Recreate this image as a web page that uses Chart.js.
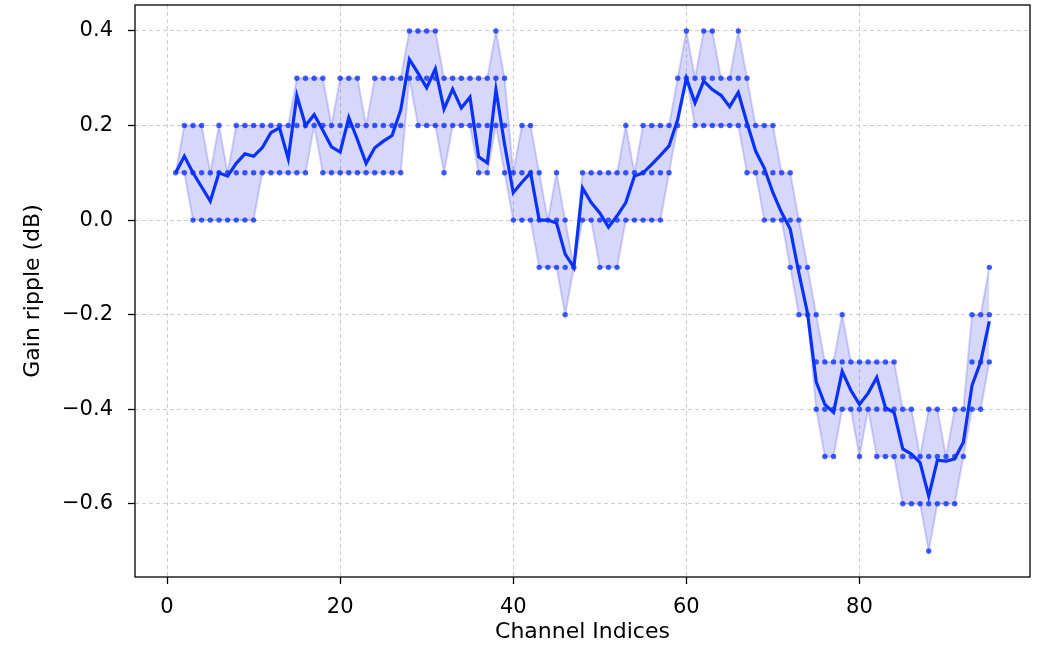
<!DOCTYPE html>
<html>
<head>
<meta charset="utf-8">
<script src="https://cdn.jsdelivr.net/npm/chart.js@4.4.1/dist/chart.umd.min.js"></script>
<style>
  html, body { margin: 0; padding: 0; background: #fff; }
  #wrap { width: 1040px; height: 645px; }
</style>
</head>
<body>
<div id="wrap"><canvas id="myChart" width="1040" height="645"></canvas></div>
<script>
// channel indices 1..95
const channels = [1,2,3,4,5,6,7,8,9,10,11,12,13,14,15,16,17,18,19,20,21,22,23,24,25,26,27,28,29,30,31,32,33,34,35,36,37,38,39,40,41,42,43,44,45,46,47,48,49,50,51,52,53,54,55,56,57,58,59,60,61,62,63,64,65,66,67,68,69,70,71,72,73,74,75,76,77,78,79,80,81,82,83,84,85,86,87,88,89,90,91,92,93,94,95];

// mean gain ripple per channel (dB)
const meanRipple = [0.10,0.135,0.10,0.07,0.04,0.10,0.093,0.12,0.14,0.135,0.153,0.185,0.195,0.13,0.263,0.20,0.223,0.19,0.155,0.144,
  0.217,0.17,0.12,0.153,0.167,0.179,0.233,0.34,0.311,0.28,0.32,0.235,0.277,0.237,0.26,0.134,0.121,0.276,0.16,0.058,
  0.08,0.10,0.0,0.0,-0.006,-0.072,-0.10,0.068,0.037,0.015,-0.015,0.009,0.037,0.093,0.10,0.118,0.137,0.157,0.213,0.30,
  0.248,0.294,0.276,0.264,0.24,0.27,0.206,0.146,0.11,0.058,0.016,-0.019,-0.112,-0.197,-0.342,-0.39,-0.407,-0.32,-0.36,-0.39,
  -0.366,-0.333,-0.397,-0.407,-0.484,-0.495,-0.513,-0.584,-0.508,-0.51,-0.505,-0.47,-0.35,-0.30,-0.214];

// upper envelope (max measured)
const maxRipple = [0.1,0.2,0.2,0.2,0.1,0.2,0.1,0.2,0.2,0.2,0.2,0.2,0.2,0.2,0.3,0.3,0.3,0.3,0.2,0.3,
  0.3,0.3,0.2,0.3,0.3,0.3,0.3,0.4,0.4,0.4,0.4,0.3,0.3,0.3,0.3,0.3,0.3,0.4,0.3,0.1,
  0.2,0.2,0.1,0.0,0.1,0.0,-0.1,0.1,0.1,0.1,0.1,0.1,0.2,0.1,0.2,0.2,0.2,0.2,0.3,0.4,
  0.3,0.4,0.4,0.3,0.3,0.4,0.3,0.2,0.2,0.2,0.1,0.1,0.0,-0.1,-0.2,-0.3,-0.3,-0.2,-0.3,-0.3,
  -0.3,-0.3,-0.3,-0.3,-0.4,-0.4,-0.5,-0.4,-0.4,-0.5,-0.4,-0.4,-0.2,-0.2,-0.1];

// lower envelope (min measured)
const minRipple = [0.1,0.1,0.0,0.0,0.0,0.0,0.0,0.0,0.0,0.0,0.1,0.1,0.1,0.1,0.1,0.1,0.2,0.1,0.1,0.1,
  0.1,0.1,0.1,0.1,0.1,0.1,0.1,0.3,0.2,0.2,0.2,0.1,0.2,0.2,0.2,0.1,0.1,0.2,0.1,0.0,
  0.0,0.0,-0.1,-0.1,-0.1,-0.2,-0.1,0.0,0.0,-0.1,-0.1,-0.1,0.0,0.0,0.0,0.0,0.0,0.1,0.2,0.3,
  0.2,0.2,0.2,0.2,0.2,0.2,0.1,0.1,0.0,0.0,0.0,-0.1,-0.2,-0.2,-0.4,-0.5,-0.5,-0.4,-0.4,-0.5,
  -0.4,-0.5,-0.5,-0.5,-0.6,-0.6,-0.6,-0.7,-0.6,-0.6,-0.6,-0.5,-0.4,-0.4,-0.3];

const xTicks = [0, 20, 40, 60, 80];
const yTicks = [0.4, 0.2, 0.0, -0.2, -0.4, -0.6];

// measured points sit on the 0.1 dB grid between min and max
let dots = [];
for (let i = 0; i < channels.length; i++) {
    let lo = Math.round(minRipple[i] * 10);
    let hi = Math.round(maxRipple[i] * 10);
    for (let k = lo; k <= hi; k++) {
        dots.push({x: channels[i], y: k / 10});
    }
}

function pairs(arr) {
    return channels.map((c, i) => ({x: c, y: arr[i]}));
}

// solid frame round the plot area
const frame = {
    id: 'frame',
    afterDraw(chart) {
        const a = chart.chartArea;
        const ctx = chart.ctx;
        ctx.save();
        ctx.strokeStyle = '#000';
        ctx.lineWidth = 1.3;
        ctx.strokeRect(a.left, a.top, a.right - a.left, a.bottom - a.top);
        ctx.restore();
    }
};

const tickFont = {family: 'DejaVu Sans', size: 21};
const titleFont = {family: 'DejaVu Sans', size: 22};

var ctx = document.getElementById('myChart').getContext('2d');
var myChart = new Chart(ctx, {
    type: 'line',
    data: {
        datasets: [
            {
                label: 'max',
                data: pairs(maxRipple),
                borderColor: 'rgba(60,60,235,0.22)',
                borderWidth: 2,
                backgroundColor: 'rgba(40,40,235,0.19)',
                pointRadius: 0,
                fill: '+1',
                order: 3
            },
            {
                label: 'min',
                data: pairs(minRipple),
                borderColor: 'rgba(60,60,235,0.22)',
                borderWidth: 2,
                pointRadius: 0,
                fill: false,
                order: 3
            },
            {
                label: 'measured',
                data: dots,
                showLine: false,
                pointRadius: 2.7,
                pointBorderWidth: 0,
                pointBackgroundColor: 'rgba(0,40,255,0.75)',
                order: 2
            },
            {
                label: 'mean',
                data: pairs(meanRipple),
                borderColor: '#0a32ff',
                borderWidth: 3.2,
                pointRadius: 0,
                fill: false,
                order: 1
            }
        ]
    },
    options: {
        responsive: false,
        animation: false,
        layout: {padding: {top: 5, right: 10, left: 0, bottom: 0}},
        plugins: {legend: {display: false}, tooltip: {enabled: false}},
        scales: {
            x: {
                type: 'linear',
                min: -3.7,
                max: 99.7,
                afterBuildTicks: function (scale) {
                    scale.ticks = xTicks.map(v => ({value: v}));
                },
                afterFit: function (scale) {
                    scale.height = 68;
                    scale.paddingLeft = 0;
                    scale.paddingRight = 0;
                },
                ticks: {
                    font: tickFont,
                    color: '#000',
                    padding: 11,
                    maxRotation: 0,
                    callback: v => String(v)
                },
                title: {
                    display: true,
                    text: 'Channel Indices',
                    font: titleFont,
                    color: '#000',
                    padding: {top: 0, bottom: 0}
                },
                grid: {
                    color: '#c8c8c8',
                    lineWidth: 0.9,
                    tickColor: '#000',
                    tickLength: 7,
                    tickWidth: 1.3
                },
                border: {display: false, dash: [4, 3]}
            },
            y: {
                min: -0.755,
                max: 0.455,
                afterBuildTicks: function (scale) {
                    scale.ticks = yTicks.map(v => ({value: v}));
                },
                afterFit: function (scale) {
                    scale.width = 135;
                    scale.paddingTop = 0;
                    scale.paddingBottom = 0;
                },
                ticks: {
                    font: tickFont,
                    color: '#000',
                    padding: 15,
                    callback: v => v.toFixed(1).replace('-', '\u2212')
                },
                title: {
                    display: true,
                    text: 'Gain ripple (dB)',
                    font: titleFont,
                    color: '#000',
                    padding: {top: 20, bottom: 0}
                },
                grid: {
                    color: '#c8c8c8',
                    lineWidth: 0.9,
                    tickColor: '#000',
                    tickLength: 7,
                    tickWidth: 1.3
                },
                border: {display: false, dash: [4, 3]}
            }
        }
    },
    plugins: [frame]
});
</script>
</body>
</html>
